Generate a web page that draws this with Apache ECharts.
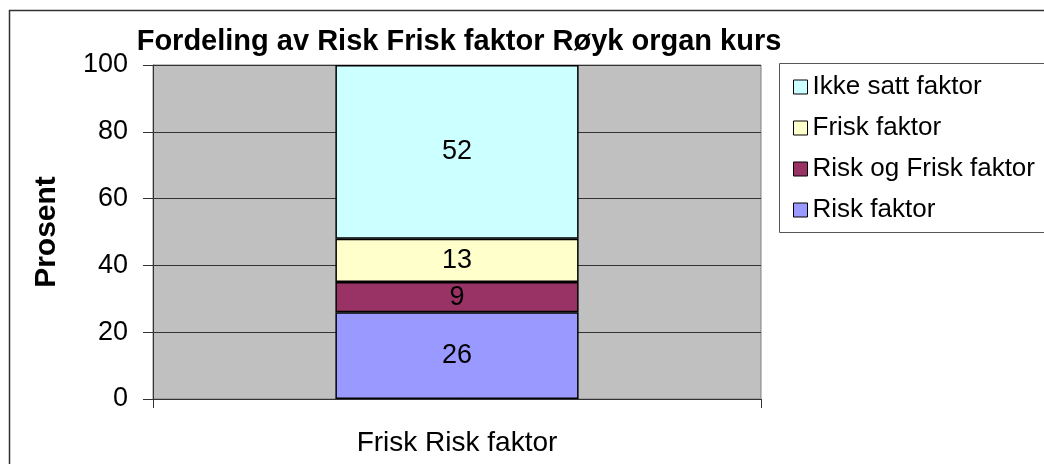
<!DOCTYPE html>
<html>
<head>
    <meta charset="utf-8">
    <title>Fordeling av Risk Frisk faktor</title>
    <style>
        *{ margin: 0; padding: 0; box-sizing: border-box; }
        html, body, #chart{ width:100%; height:100%; overflow:hidden; background:#fff; }
    </style>
</head>
<body>
    <div id="chart"></div>
    <script src="https://cdn.jsdelivr.net/npm/echarts@6/dist/echarts.min.js"></script>
    <script>
        var categories = ['Frisk Risk faktor'];
        var riskFaktor = [26];
        var riskOgFrisk = [9];
        var friskFaktor = [13];
        var ikkeSatt = [52];
        var legendOrder = ['Ikke satt faktor', 'Frisk faktor', 'Risk og Frisk faktor', 'Risk faktor'];

        var font = 'Liberation Sans, Arial, sans-serif';
        var myChart = echarts.init(document.getElementById('chart'));

        function bar(name, data, color) {
            return {
                name: name,
                type: 'bar',
                stack: 'total',
                barWidth: '40%',
                data: data,
                itemStyle: { color: color, borderColor: '#000', borderWidth: 1.5 },
                label: {
                    show: true,
                    position: 'inside',
                    color: '#000',
                    fontFamily: font,
                    fontSize: 27
                }
            };
        }

        var option = {
            animation: false,
            title: {
                text: 'Fordeling av Risk Frisk faktor Røyk organ kurs',
                left: 454,
                textAlign: 'center',
                top: 22,
                textStyle: { fontFamily: font, fontSize: 29, fontWeight: 'bold', color: '#000' }
            },
            graphic: [
                {
                    type: 'rect',
                    shape: { x: 9.5, y: 10.5, width: 1100, height: 500 },
                    style: { fill: 'none', stroke: '#333', lineWidth: 1.5 },
                    silent: true
                },
                {
                    type: 'rect',
                    shape: { x: 779.5, y: 63.5, width: 300, height: 169 },
                    style: { fill: '#fff', stroke: '#555', lineWidth: 1 },
                    silent: true
                }
            ],
            legend: {
                orient: 'vertical',
                left: 788,
                top: 69,
                itemWidth: 14,
                itemHeight: 14,
                itemGap: 15,
                data: legendOrder.map(function (n) { return { name: n, icon: 'rect' }; }),
                itemStyle: { borderColor: '#000', borderWidth: 1 },
                textStyle: { fontFamily: font, fontSize: 26, color: '#000' }
            },
            grid: {
                left: 153,
                right: 283,
                top: 65,
                bottom: 65,
                show: true,
                backgroundColor: '#c0c0c0',
                borderColor: '#808080',
                borderWidth: 1
            },
            xAxis: {
                type: 'category',
                data: categories,
                axisLine: { lineStyle: { color: '#333', width: 1 } },
                axisTick: { show: true, length: 9, lineStyle: { color: '#333' } },
                axisLabel: { fontFamily: font, fontSize: 28, color: '#000', margin: 30 }
            },
            yAxis: {
                type: 'value',
                min: 0,
                max: 100,
                interval: 20,
                name: 'Prosent',
                nameLocation: 'middle',
                nameGap: 91,
                nameTextStyle: { fontFamily: font, fontSize: 30, fontWeight: 'bold', color: '#000' },
                axisLine: { show: true, lineStyle: { color: '#333', width: 1 } },
                axisTick: { show: true, length: 10, lineStyle: { color: '#333' } },
                axisLabel: { fontFamily: font, fontSize: 27, color: '#000', margin: 25 },
                splitLine: { show: true, lineStyle: { color: '#333', width: 1 } }
            },
            series: [
                bar('Risk faktor', riskFaktor, '#9999ff'),
                bar('Risk og Frisk faktor', riskOgFrisk, '#993366'),
                bar('Frisk faktor', friskFaktor, '#ffffcc'),
                bar('Ikke satt faktor', ikkeSatt, '#ccffff')
            ]
        };

        myChart.setOption(option);
    </script>
</body>
</html>
